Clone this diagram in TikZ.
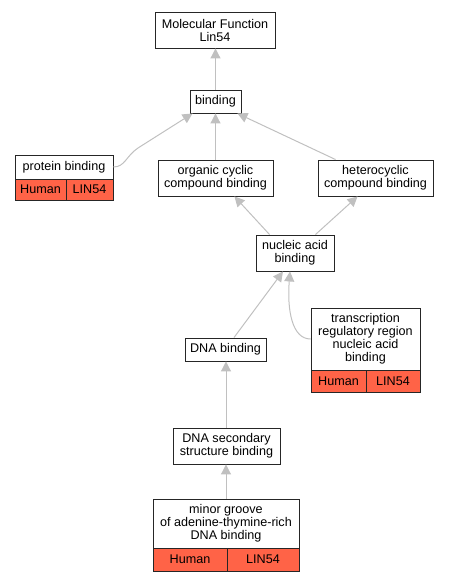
\documentclass[tikz,border=0pt]{standalone}
\usepackage{fontspec}
\setmainfont{Liberation Sans}
\usetikzlibrary{arrows.meta,calc}
\definecolor{tomatoc}{HTML}{FF6347}
\definecolor{edgec}{HTML}{C0C0C0}
\begin{document}
\begin{tikzpicture}[x=1pt,y=-1pt,
  box/.style={draw=black!85, line width=0.9pt, fill=white, align=center, inner sep=0pt,
     font=\fontsize{12.6}{13}\selectfont},
  cell/.style={box, fill=tomatoc},
  edge/.style={draw=edgec, line width=1pt, -{Triangle[length=10pt,width=10pt]}}]
\useasboundingbox (0,0) rectangle (449,581);
% nodes
\node[box, minimum width=120pt, minimum height=36pt] (mf) at (215,30) {Molecular Function\\Lin54};
\node[box, minimum width=51pt, minimum height=23pt] (bind) at (215.5,101.5) {binding};
\node[box, minimum width=98pt, minimum height=24pt] (pb) at (64,167) {protein binding};
\node[cell, minimum width=51pt, minimum height=21pt] (pbH) at (40.5,189.5) {Human};
\node[cell, minimum width=47pt, minimum height=21pt] (pbL) at (89.5,189.5) {LIN54};
\node[box, minimum width=115pt, minimum height=36pt] (oc) at (215.5,178) {organic cyclic\\compound binding};
\node[box, minimum width=115pt, minimum height=36pt] (hc) at (375.5,178) {heterocyclic\\compound binding};
\node[box, minimum width=78pt, minimum height=36pt] (na) at (295,253) {nucleic acid\\binding};
\node[box, minimum width=81pt, minimum height=23pt] (dna) at (225.5,349.5) {DNA binding};
\node[box, minimum width=109pt, minimum height=62pt] (tr) at (365.5,339) {transcription\\regulatory region\\nucleic acid\\binding};
\node[cell, minimum width=55pt, minimum height=22pt] (trH) at (338.5,381) {Human};
\node[cell, minimum width=54pt, minimum height=22pt] (trL) at (393,381) {LIN54};
\node[box, minimum width=107pt, minimum height=36pt] (ds) at (226.5,446) {DNA secondary\\structure binding};
\node[box, minimum width=146pt, minimum height=49pt] (mg) at (226,523.5) {minor groove\\of adenine-thymine-rich\\DNA binding};
\node[cell, minimum width=74pt, minimum height=23pt] (mgH) at (190,559.5) {Human};
\node[cell, minimum width=72pt, minimum height=23pt] (mgL) at (263,559.5) {LIN54};
% edges
\draw[edge] (bind.north) -- (bind.north |- mf.south);
\draw[edge] (pb.east) .. controls (125,167) and (126,156) .. (138,148) -- ($(bind.south west)+(3,0)$);
\draw[edge] (oc.north) -- (oc.north |- bind.south);
\draw[edge] ($(hc.north west)+(18,0)$) -- ($(bind.south east)+(-4,0)$);
\draw[edge] ($(na.north west)+(14,0)$) -- ($(oc.south east)+(-39,0)$);
\draw[edge] ($(na.north east)+(-19,0)$) -- ($(hc.south west)+(40,0)$);
\draw[edge] ($(dna.north)+(8.5,0)$) -- ($(na.south)+(-12,0)$);
\draw[edge] (tr.west) .. controls (292,339) and (287,310) .. ($(na.south)+(-5,0)$);
\draw[edge] ($(ds.north)+(-0.5,0)$) -- ($(dna.south)+(0.5,0)$);
\draw[edge] (mg.north) -- (mg.north |- ds.south);
\end{tikzpicture}
\end{document}
